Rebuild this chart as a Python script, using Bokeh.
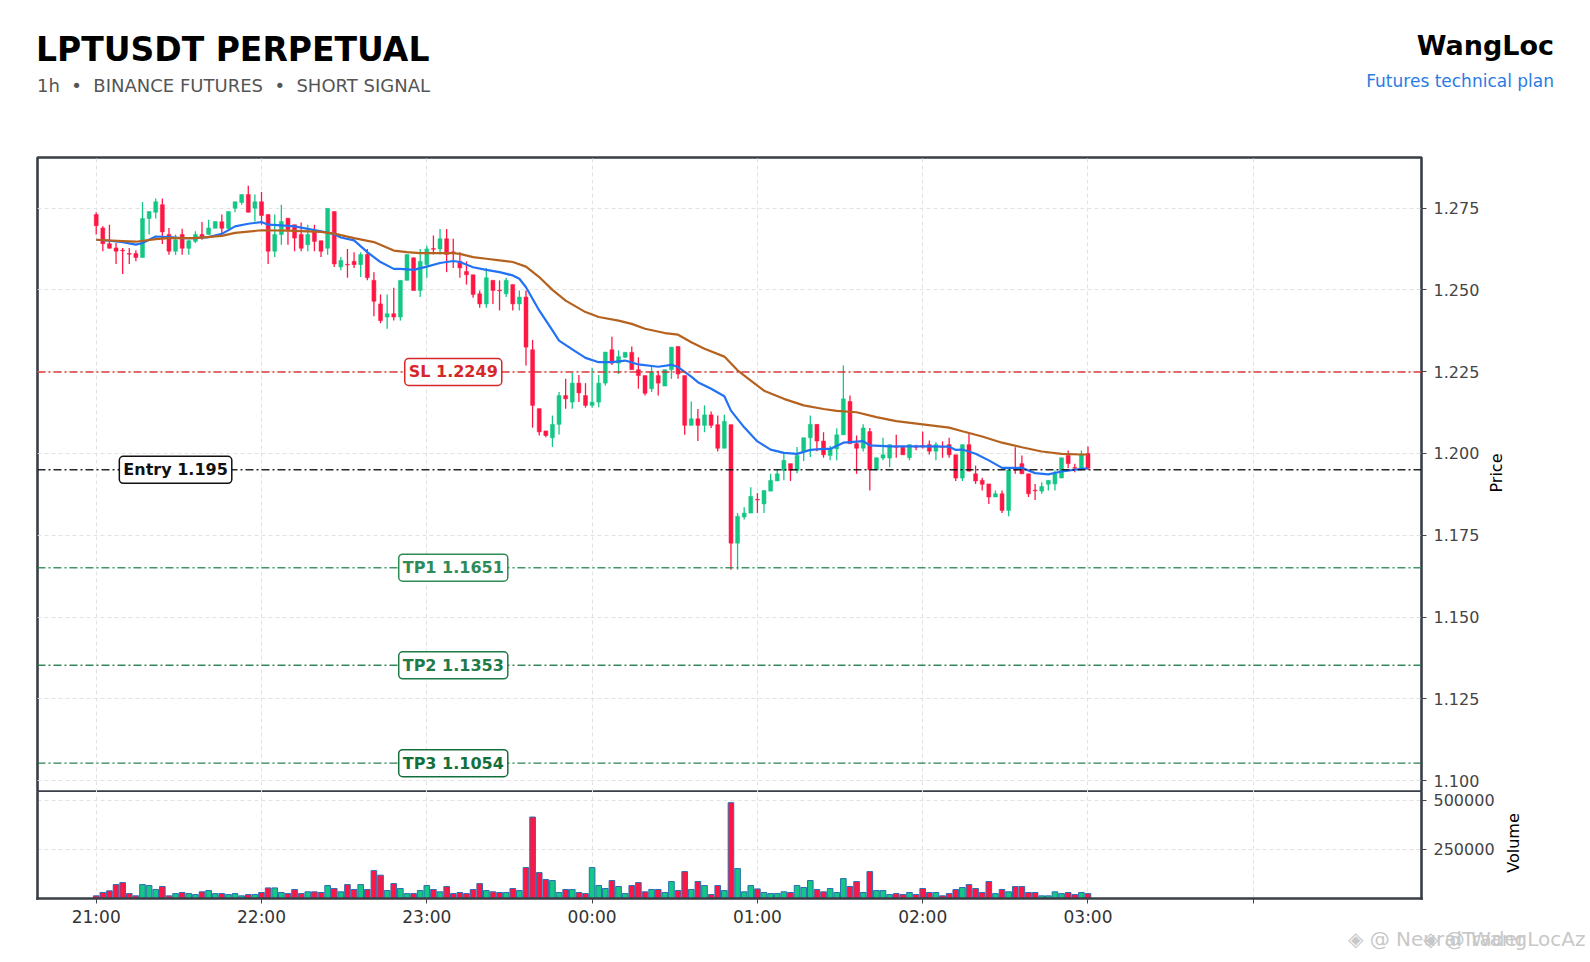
import numpy as np
from bokeh.plotting import figure
from bokeh.models import (Range1d, FixedTicker, PrintfTickFormatter, Span, Label,
                          ColumnDataSource, Div, LinearAxis)
from bokeh.layouts import column
from bokeh.embed import file_html
from bokeh.resources import INLINE

# ---------------- data ----------------
opens = [1.2730,1.2689,1.2641,1.2628,1.2621,1.2611,1.2611,1.2599,1.2718,1.2737,
         1.2760,1.2669,1.2618,1.2669,1.2627,1.2648,1.2669,1.2669,1.2688,1.2708,
         1.2688,1.2749,1.2767,1.2791,1.2749,1.2769,1.2730,1.2618,1.2669,1.2719,
         1.2699,1.2669,1.2638,1.2679,1.2650,1.2627,1.2739,1.2570,1.2578,1.2587,
         1.2577,1.2608,1.2529,1.2457,1.2417,1.2427,1.2417,1.2529,1.2598,1.2498,
         1.2577,1.2626,1.2625,1.2656,1.2616,1.2587,1.2556,1.2546,1.2488,1.2457,
         1.2529,1.2499,1.2488,1.2516,1.2457,1.2478,1.2317,1.2137,1.2069,1.2048,
         1.2089,1.2177,1.2157,1.2215,1.2177,1.2147,1.2157,1.2215,1.2317,1.2276,
         1.2294,1.2309,1.2256,1.2238,1.2198,1.2238,1.2206,1.2256,1.2327,1.2238,
         1.2086,1.2106,1.2086,1.2118,1.2088,1.2016,1.2088,1.1726,1.1806,1.1818,
         1.1860,1.1846,1.1885,1.1916,1.1948,1.1969,1.1948,1.2007,1.2048,1.2089,
         1.2038,1.1994,1.2014,1.2057,1.2159,1.2030,1.2016,1.2067,1.1950,1.1986,
         1.1986,1.2021,1.2020,1.1987,1.2021,1.2024,1.2027,1.2007,1.2021,1.2027,
         1.1996,1.1925,1.2027,1.1938,1.1918,1.1907,1.1867,1.1877,1.1826,1.1951,
         1.1969,1.1938,1.1888,1.1885,1.1906,1.1907,1.1925,1.1994,1.1957,1.1955,
         1.2000]
highs = [1.2737,1.2694,1.2699,1.2643,1.2628,1.2628,1.2621,1.2768,1.2739,1.2779,
         1.2779,1.2689,1.2669,1.2687,1.2653,1.2679,1.2707,1.2714,1.2709,1.2730,
         1.2739,1.2769,1.2791,1.2818,1.2791,1.2799,1.2730,1.2730,1.2760,1.2719,
         1.2699,1.2706,1.2699,1.2699,1.2650,1.2749,1.2739,1.2600,1.2625,1.2615,
         1.2615,1.2625,1.2554,1.2486,1.2486,1.2506,1.2529,1.2608,1.2598,1.2625,
         1.2635,1.2666,1.2686,1.2686,1.2656,1.2615,1.2587,1.2546,1.2498,1.2567,
         1.2529,1.2529,1.2537,1.2516,1.2498,1.2498,1.2347,1.2137,1.2069,1.2116,
         1.2188,1.2228,1.2246,1.2240,1.2215,1.2262,1.2240,1.2310,1.2357,1.2315,
         1.2309,1.2327,1.2294,1.2238,1.2269,1.2253,1.2256,1.2325,1.2327,1.2238,
         1.2159,1.2136,1.2147,1.2128,1.2116,1.2118,1.2088,1.1818,1.1836,1.1897,
         1.1879,1.1887,1.1938,1.1950,1.2004,1.1969,1.2020,1.2048,1.2116,1.2089,
         1.2065,1.2024,1.2077,1.2269,1.2177,1.2055,1.2089,1.2078,1.1987,1.2048,
         1.2027,1.2057,1.2020,1.2027,1.2027,1.2067,1.2040,1.2035,1.2037,1.2048,
         1.1996,1.2027,1.2065,1.1963,1.1926,1.1907,1.1887,1.1887,1.1950,1.2019,
         1.1994,1.1938,1.1907,1.1912,1.1918,1.1948,1.1987,1.2009,1.1969,1.2009,
         1.2021]
lows = [1.2669,1.2618,1.2626,1.2579,1.2548,1.2579,1.2587,1.2599,1.2669,1.2718,
        1.2640,1.2607,1.2607,1.2607,1.2607,1.2643,1.2653,1.2669,1.2688,1.2674,
        1.2684,1.2737,1.2760,1.2737,1.2709,1.2699,1.2579,1.2600,1.2638,1.2638,
        1.2618,1.2618,1.2618,1.2618,1.2600,1.2607,1.2570,1.2560,1.2537,1.2567,
        1.2539,1.2529,1.2419,1.2398,1.2381,1.2406,1.2406,1.2529,1.2498,1.2478,
        1.2537,1.2608,1.2608,1.2554,1.2567,1.2537,1.2516,1.2476,1.2445,1.2445,
        1.2457,1.2437,1.2478,1.2437,1.2437,1.2269,1.2079,1.2055,1.2050,1.2020,
        1.2058,1.2137,1.2137,1.2157,1.2140,1.2140,1.2141,1.2208,1.2270,1.2243,
        1.2292,1.2256,1.2198,1.2177,1.2188,1.2177,1.2206,1.2228,1.2228,1.2057,
        1.2086,1.2038,1.2065,1.2078,1.2006,1.2016,1.1645,1.1645,1.1798,1.1818,
        1.1818,1.1818,1.1885,1.1916,1.1918,1.1916,1.1940,1.1977,1.1989,1.2007,
        1.1987,1.1979,1.1979,1.2057,1.2030,1.1938,1.2006,1.1887,1.1950,1.1979,
        1.1958,1.1987,1.1996,1.1979,1.2010,1.2015,1.1997,1.1979,1.1987,1.1987,
        1.1916,1.1916,1.1946,1.1907,1.1887,1.1846,1.1867,1.1818,1.1808,1.1938,
        1.1938,1.1867,1.1858,1.1877,1.1887,1.1887,1.1925,1.1956,1.1943,1.1948,
        1.1950]
closes = [1.2696,1.2641,1.2627,1.2618,1.2619,1.2609,1.2599,1.2718,1.2739,1.2769,
          1.2677,1.2618,1.2653,1.2627,1.2650,1.2669,1.2660,1.2689,1.2709,1.2688,
          1.2739,1.2769,1.2791,1.2737,1.2769,1.2727,1.2618,1.2669,1.2709,1.2684,
          1.2658,1.2627,1.2669,1.2648,1.2618,1.2749,1.2579,1.2590,1.2576,1.2577,
          1.2608,1.2537,1.2465,1.2406,1.2427,1.2417,1.2529,1.2608,1.2498,1.2587,
          1.2625,1.2624,1.2656,1.2608,1.2614,1.2567,1.2546,1.2486,1.2457,1.2537,
          1.2498,1.2497,1.2529,1.2457,1.2478,1.2325,1.2147,1.2066,1.2055,1.2089,
          1.2177,1.2167,1.2215,1.2185,1.2147,1.2157,1.2215,1.2310,1.2276,1.2296,
          1.2309,1.2256,1.2238,1.2184,1.2249,1.2215,1.2256,1.2325,1.2243,1.2086,
          1.2106,1.2086,1.2118,1.2086,1.2016,1.2098,1.1726,1.1808,1.1818,1.1869,
          1.1858,1.1887,1.1918,1.1938,1.1979,1.1948,1.1994,1.2048,1.2089,1.2038,
          1.1996,1.2014,1.2057,1.2167,1.2030,1.2016,1.2078,1.1950,1.1987,1.1996,
          1.2027,1.2019,1.1996,1.2027,1.2019,1.2020,1.2007,1.2027,1.2019,1.1996,
          1.1925,1.2027,1.1946,1.1916,1.1906,1.1867,1.1877,1.1826,1.1950,1.1949,
          1.1938,1.1877,1.1886,1.1899,1.1918,1.1938,1.1987,1.1969,1.1955,1.1997,
          1.1955]
volumes = [13500,30500,39000,71000,81000,25000,13500,71000,66000,46000,
           61000,13500,25000,30500,25000,20000,34000,40500,25000,25000,
           20000,25000,13500,20000,20000,30500,54000,54000,30500,25000,
           46000,25000,34000,34000,30500,66000,51000,34000,71000,46000,
           71000,46000,142000,119000,40500,76000,51000,25000,25000,40500,
           66000,46000,34000,61000,25000,30500,25000,46000,76000,40500,
           34000,30500,30500,51000,40500,157500,415000,132000,96500,91500,
           30500,46000,46000,30500,25000,157500,66000,51000,91500,61000,
           25000,66000,81000,34000,46000,46000,30500,86500,40500,137000,
           46000,86500,66000,20000,66000,40500,488000,152500,34000,66000,
           49000,30500,25000,25000,34000,30500,66000,56000,91500,46000,
           34000,51000,30500,101500,61000,86500,30500,137000,40500,40500,
           20000,25000,20000,30500,20000,51000,30500,30500,13500,25000,
           46000,56000,71000,51000,30500,86500,25000,46000,34000,61000,
           61000,30500,30500,13500,13500,34000,25000,30500,20000,30500,
           25000]

# fast EMA (blue) read at candle indices
ema_fast_idx = [0,2,4,6,7,9,11,13,15,17,19,21,23,25,26,28,30,32,34,36,
                37,39,41,43,45,46,48,50,52,54,55,57,59,61,63,64,65,67,69,70,
                72,74,76,78,80,82,85,87,88,90,91,93,95,96,98,100,102,104,106,108,
                110,111,113,116,117,120,125,129,130,131,133,135,137,140,141,142,144,146,149,150]
ema_fast = [1.2653,1.2650,1.2646,1.2638,1.2643,1.2663,1.2661,1.2658,1.2658,1.2661,
            1.2671,1.2694,1.2702,1.2707,1.2699,1.2697,1.2694,1.2686,1.2679,1.2670,
            1.2660,1.2651,1.2615,1.2585,1.2564,1.2564,1.2561,1.2571,1.2582,1.2588,
            1.2585,1.2569,1.2561,1.2554,1.2544,1.2534,1.2508,1.2437,1.2376,1.2345,
            1.2318,1.2292,1.2279,1.2279,1.2284,1.2272,1.2265,1.2271,1.2264,1.2235,
            1.2218,1.2198,1.2175,1.2131,1.2080,1.2037,1.2012,1.2002,1.1999,1.2011,
            1.2014,1.2014,1.2033,1.2038,1.2025,1.2022,1.2022,1.2021,1.2011,1.2012,
            1.1999,1.1979,1.1956,1.1956,1.1948,1.1940,1.1936,1.1945,1.1953,1.1955]
# slow EMA (brown)
ema_slow_idx = [0,4,6,9,11,15,19,21,25,29,34,36,37,39,42,45,47,49,54,55,
                57,59,61,63,65,67,69,71,74,76,79,81,83,86,88,90,92,95,97,99,
                101,104,107,110,112,115,118,121,125,129,131,134,137,140,143,146,149,150]
ema_slow = [1.2653,1.2649,1.2647,1.2655,1.2658,1.2658,1.2665,1.2674,1.2682,1.2681,
            1.2677,1.2672,1.2667,1.2658,1.2646,1.2620,1.2615,1.2612,1.2612,1.2610,
            1.2600,1.2595,1.2590,1.2585,1.2571,1.2539,1.2500,1.2467,1.2432,1.2417,
            1.2406,1.2396,1.2381,1.2368,1.2363,1.2340,1.2320,1.2296,1.2254,1.2223,
            1.2192,1.2167,1.2147,1.2136,1.2130,1.2126,1.2111,1.2099,1.2089,1.2079,
            1.2068,1.2052,1.2033,1.2019,1.2006,1.1999,1.1997,1.1997]

hour_ticks = [0, 25, 50, 75, 100, 125, 150, 175]
hour_labels = ["21:00", "22:00", "23:00", "00:00", "01:00", "02:00", "03:00", ""]
price_ticks = [1.100, 1.125, 1.150, 1.175, 1.200, 1.225, 1.250, 1.275]
volume_ticks = [250000, 500000]

level_names = ["SL 1.2249", "Entry 1.195", "TP1 1.1651", "TP2 1.1353", "TP3 1.1054"]
level_values = [1.2249, 1.195, 1.1651, 1.1353, 1.1054]
level_colors = ["#d62728", "#111111", "#2e8b57", "#1f7a48", "#13703b"]
level_label_x = [54, 12, 54, 54, 54]

title_text = "LPTUSDT PERPETUAL"
subtitle_text = "1h \u00a0\u2022\u00a0 BINANCE FUTURES \u00a0\u2022\u00a0 SHORT SIGNAL"
brand_text = "WangLoc"
brand_sub_text = "Futures technical plan"
price_axis_title = "Price"
volume_axis_title = "Volume"
watermarks = ["\u25c8 @ NeuralTrader", "\u25c8 @ WangLocAz"]

# ---------------- styling ----------------
W = 1580
LEFT = 37
FRAME_RIGHT = 1421
GREEN = "#14c784"
RED = "#ff1744"
FONT = "DejaVu Sans"
BORDER = "#3a3f47"
GRID = "#e2e2e2"
BW = 2.6

x_range = Range1d(-8.88, 200.44)

idx = list(range(len(opens)))
colors = [GREEN if c >= o else RED for o, c in zip(opens, closes)]
src = ColumnDataSource(dict(
    x=idx, h=highs, l=lows,
    top=[max(o, c) for o, c in zip(opens, closes)],
    bot=[min(o, c) for o, c in zip(opens, closes)],
    vol=volumes, color=colors))


def add_label(fig, **kw):
    try:
        lab = Label(**kw)
    except Exception:
        kw.pop("padding", None)
        kw.pop("border_radius", None)
        lab = Label(**kw)
    fig.add_layout(lab)


def style_axis(ax, size="16px", color="#444444", standoff=7):
    ax.major_tick_line_color = "#444444"
    ax.major_tick_out = 5
    ax.major_tick_in = 0
    ax.minor_tick_line_color = None
    ax.major_label_text_font = FONT
    ax.major_label_text_font_size = size
    ax.major_label_text_color = color
    ax.major_label_standoff = standoff


def rotated(text, cx, cy):
    # vertical axis title, reading bottom-to-top, centred on (cx, cy) in page pixels
    return (f'<div style="position:absolute;left:{cx - 45}px;top:{cy - 10}px;width:90px;height:20px;'
            f'line-height:20px;text-align:center;font-size:16px;color:#000;white-space:nowrap;'
            f'transform:rotate(-90deg);z-index:20;">{text}</div>')


# ---------------- header (also carries the two rotated axis titles) ----------------
header_html = (
    f'<div style="position:relative;width:{W}px;height:152px;overflow:visible;font-family:\'DejaVu Sans\',sans-serif;">'
    f'<span style="position:absolute;left:36px;top:33px;font-size:33px;font-weight:bold;line-height:1;color:#000;white-space:nowrap;">{title_text}</span>'
    f'<span style="position:absolute;left:37px;top:77px;font-size:18px;line-height:1;color:#555;white-space:nowrap;">{subtitle_text}</span>'
    f'<span style="position:absolute;right:{W - 1554}px;top:32px;font-size:27px;font-weight:bold;line-height:1;color:#000;white-space:nowrap;">{brand_text}</span>'
    f'<span style="position:absolute;right:{W - 1554}px;top:73px;font-size:17px;line-height:1;color:#2a7be4;white-space:nowrap;">{brand_sub_text}</span>'
    + rotated(price_axis_title, 1497, 473)
    + rotated(volume_axis_title, 1514, 843)
    + '</div>')
hdr = Div(text=header_html, width=W, height=152, margin=0,
          styles={"overflow": "visible", "z-index": "20"})

# ---------------- price panel ----------------
p = figure(width=W, height=640, x_range=x_range, y_range=Range1d(1.09643, 1.29043),
           output_backend="svg", toolbar_location=None,
           x_axis_location=None, y_axis_location="right",
           min_border_left=LEFT, min_border_right=W - FRAME_RIGHT,
           min_border_top=5, min_border_bottom=0)
p.outline_line_color = BORDER
p.outline_line_width = BW
p.xgrid.ticker = FixedTicker(ticks=hour_ticks)
p.ygrid.ticker = FixedTicker(ticks=price_ticks)
p.grid.grid_line_color = GRID
p.grid.grid_line_dash = "4 3"
p.grid.grid_line_width = 1

ya = p.yaxis[0]
ya.ticker = FixedTicker(ticks=price_ticks)
ya.formatter = PrintfTickFormatter(format="%.3f")
ya.axis_line_color = None
style_axis(ya)

for name, val, col in zip(level_names, level_values, level_colors):
    p.add_layout(Span(location=val, dimension="width", line_color=col,
                      line_width=1.5 if name.startswith("Entry") else 1.3,
                      line_dash="8 3 2 3", line_alpha=0.9))

p.segment(x0="x", y0="l", x1="x", y1="h", source=src, line_color="color", line_width=1.3)
p.vbar(x="x", top="top", bottom="bot", width=0.6, source=src,
       fill_color="color", line_color="color", line_width=0.5)

p.line(ema_fast_idx, ema_fast, line_color="#2272f5", line_width=2.2)
p.line(ema_slow_idx, ema_slow, line_color="#b5621f", line_width=2.2)

for name, val, col, lx in zip(level_names, level_values, level_colors, level_label_x):
    add_label(p, x=lx, y=val, text=name, text_align="center", text_baseline="middle",
              text_font=FONT, text_font_size="16px", text_font_style="bold",
              text_color=col, background_fill_color="white",
              border_line_color=col, border_line_width=1.5,
              padding=4, border_radius=4)

# ---------------- volume panel ----------------
v = figure(width=W, height=137, x_range=x_range, y_range=Range1d(0, 540000),
           output_backend="svg", toolbar_location=None,
           x_axis_location="below", y_axis_location="right",
           min_border_left=LEFT, min_border_right=W - FRAME_RIGHT,
           min_border_top=0, min_border_bottom=30)
v.outline_line_color = None
v.xgrid.ticker = FixedTicker(ticks=hour_ticks)
v.ygrid.ticker = FixedTicker(ticks=volume_ticks)
v.grid.grid_line_color = GRID
v.grid.grid_line_dash = "4 3"
v.grid.grid_line_width = 1

v.vbar(x="x", top="vol", bottom=0, width=0.85, source=src,
       fill_color="color", line_color="#2a6db5", line_width=1)

vy = v.yaxis[0]
vy.ticker = FixedTicker(ticks=volume_ticks)
vy.formatter = PrintfTickFormatter(format="%d")
vy.axis_line_color = BORDER
vy.axis_line_width = BW
vy.axis_line_cap = "square"
style_axis(vy)

vx = v.xaxis[0]
vx.ticker = FixedTicker(ticks=hour_ticks)
vx.major_label_overrides = {t: s for t, s in zip(hour_ticks, hour_labels)}
vx.axis_line_color = BORDER
vx.axis_line_width = BW
vx.axis_line_cap = "square"
style_axis(vx, size="17px", color="#333333", standoff=3)

vleft = LinearAxis(ticker=FixedTicker(ticks=[]), axis_line_color=BORDER,
                   axis_line_width=BW, axis_line_cap="square",
                   major_tick_line_color=None, minor_tick_line_color=None,
                   major_label_text_font_size="0px")
v.add_layout(vleft, "left")

# ---------------- footer watermark ----------------
footer_html = (
    f'<div style="position:relative;width:{W}px;height:30px;font-family:\'DejaVu Sans\',sans-serif;">'
    f'<span style="position:absolute;left:1348px;top:0px;font-size:20px;line-height:1;color:#c8c8c8;white-space:nowrap;">{watermarks[0]}</span>'
    f'<span style="position:absolute;left:1423px;top:0px;font-size:20px;line-height:1;color:#c8c8c8;white-space:nowrap;">{watermarks[1]}</span>'
    '</div>')
ftr = Div(text=footer_html, width=W, height=30, margin=0)

layout = column(hdr, p, v, ftr, spacing=0)
open("out.html", "w").write(file_html(layout, INLINE))
